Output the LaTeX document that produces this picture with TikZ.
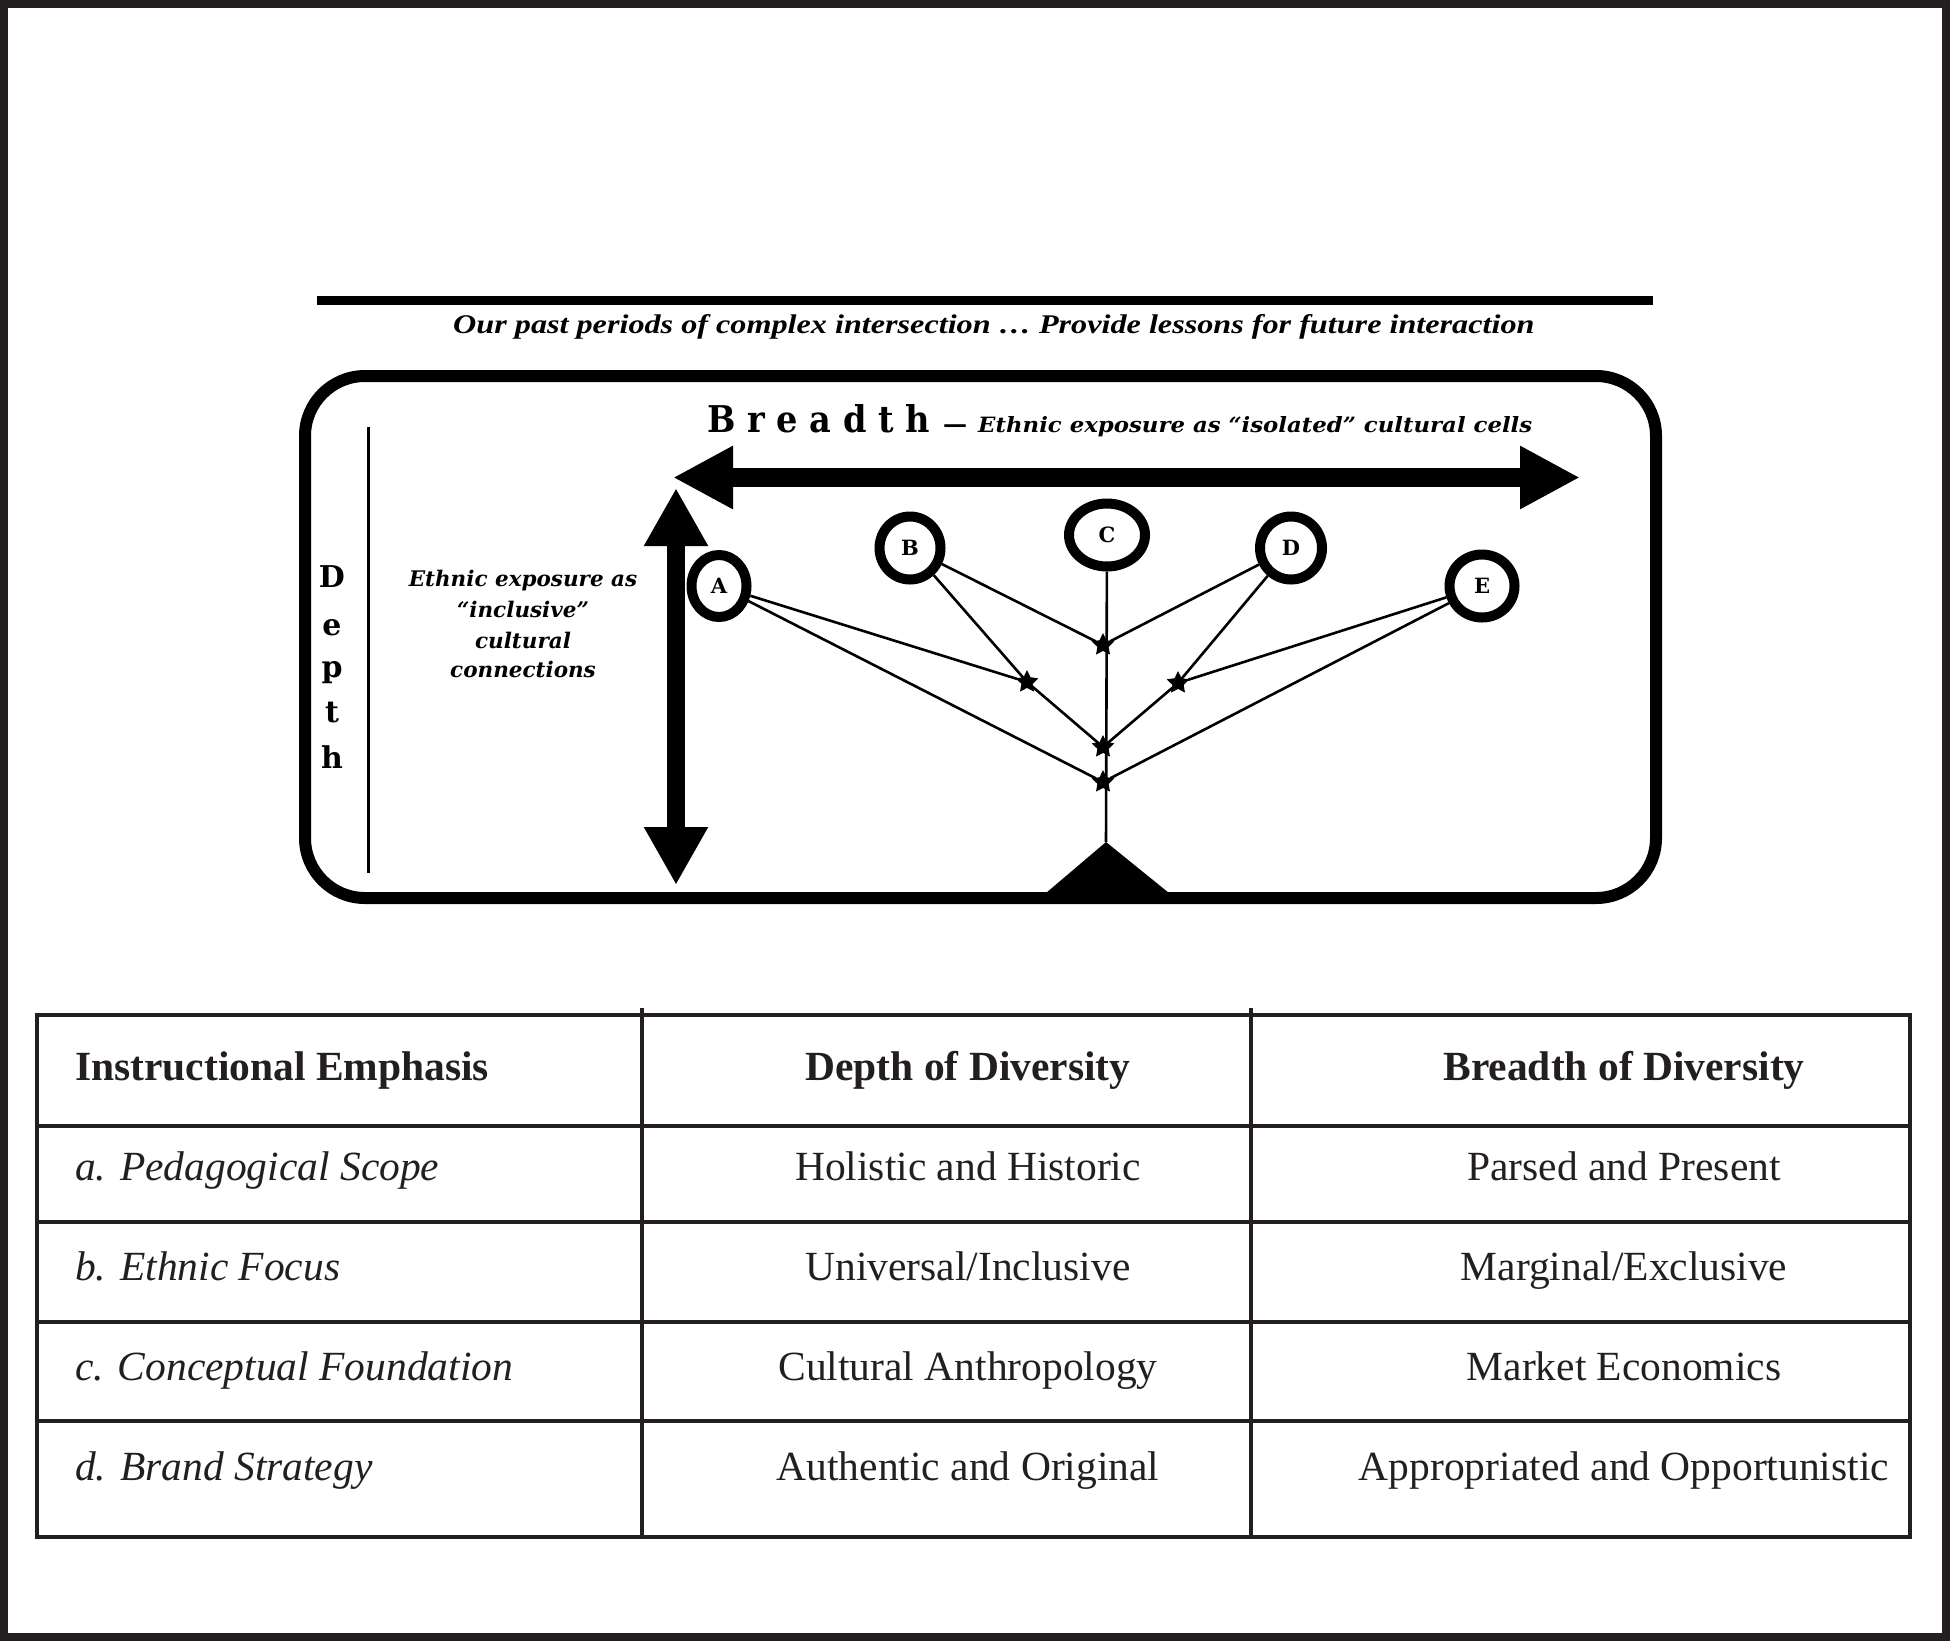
\documentclass[tikz,border=0pt]{standalone}
\usepackage{fontspec}
\usepackage{graphicx}
\setmainfont{Liberation Serif}
\newfontfamily\dvs{DejaVu Serif}
\usetikzlibrary{shapes.geometric,arrows.meta}
\definecolor{ink}{HTML}{231F20}
\tikzset{
  bubble/.style={ellipse, draw=black, line width=10pt, inner sep=0pt,
    font=\dvs\bfseries\fontsize{21}{21}\selectfont},
  junction/.style={star, star points=5, star point ratio=2.0, fill=black, draw=black,
    line width=1.2pt, minimum size=21pt, inner sep=0pt, outer sep=0pt},
  link/.style={line width=2.6pt},
  bigarrow/.style={line width=19pt,
    {Triangle[length=60pt,width=59pt]}-{Triangle[length=60pt,width=59pt]}},
  hdr/.style={font=\bfseries\fontsize{41.5}{48}\selectfont, text=ink, anchor=base, inner sep=0pt},
  cellt/.style={font=\fontsize{41.5}{48}\selectfont, text=ink, anchor=base, inner sep=0pt},
  rowlab/.style={font=\itshape\fontsize{41.5}{48}\selectfont, text=ink, anchor=base west, inner sep=0pt},
  depthl/.style={font=\dvs\bfseries\fontsize{30}{30}\selectfont, anchor=base, inner sep=0pt},
  ethn/.style={font=\dvs\bfseries\itshape\fontsize{21.5}{21.5}\selectfont, anchor=base, inner sep=0pt},
  gridline/.style={draw=ink, line width=3.5pt}
}
\begin{document}
\begin{tikzpicture}[x=1pt,y=-1pt]
\useasboundingbox (0,0) rectangle (1950,1641);
% outer frame
\draw[ink, line width=8pt] (4,4) rectangle (1946,1636.5);

% title rule and title
\coordinate (rl) at (317,300);
\coordinate (rr) at (1653,300);
\draw[line width=9pt] (rl) -- (rr);
\node[anchor=base west, inner sep=0pt] (title) at (453,333)
  {\resizebox{1081pt}{19pt}{\bfseries\itshape Our past periods of complex intersection … Provide lessons for future interaction}};

% rounded frame
\draw[line width=12pt, rounded corners=60pt] (305,376) rectangle (1656,898);

% breadth label
\node[anchor=base west, inner sep=0pt] (breadth) at (707,432)
  {\resizebox{223pt}{28pt}{\dvs\bfseries B r e a d t h}};
\node[anchor=base west, inner sep=0pt] (dash) at (943,432)
  {\dvs\bfseries\fontsize{24}{24}\selectfont —};
\node[anchor=base west, inner sep=0pt] (bsub) at (978,432)
  {\resizebox{554pt}{16pt}{\dvs\bfseries\itshape Ethnic exposure as “isolated” cultural cells}};

% depth label
\coordinate (dtop) at (368,427);
\coordinate (dbot) at (368,873);
\draw[line width=3pt] (dtop) -- (dbot);
\node[depthl] (d1) at (332,587) {D};
\node[depthl] (d2) at (332,635) {e};
\node[depthl] (d3) at (332,677) {p};
\node[depthl] (d4) at (332,722) {t};
\node[depthl] (d5) at (332,768) {h};

\node[ethn] (e1) at (523,586) {Ethnic exposure as};
\node[ethn] (e2) at (523,617) {“inclusive”};
\node[ethn] (e3) at (523,648) {cultural};
\node[ethn] (e4) at (523,677) {connections};

% big arrows
\coordinate (hl) at (673,477.5);
\coordinate (hr) at (1580,477.5);
\draw[bigarrow] (hl) -- (hr);
\coordinate (vt) at (676,488);
\coordinate (vb) at (676,885);
\draw[line width=18pt, {Triangle[length=58pt,width=60pt]}-{Triangle[length=58pt,width=60pt]}] (vt) -- (vb);

% cells
\node[bubble, minimum width=55pt, minimum height=62pt] (A) at (719,586) {A};
\node[bubble, minimum width=61pt, minimum height=63pt] (B) at (910,548) {B};
\node[bubble, minimum width=76pt, minimum height=63pt] (C) at (1107,535) {C};
\node[bubble, minimum width=62pt, minimum height=63pt] (D) at (1291,548) {D};
\node[bubble, minimum width=65pt, minimum height=63pt] (E) at (1482,586) {E};

% junctions
\node[junction] (S1) at (1103,645) {};
\node[junction] (S2) at (1027,682) {};
\node[junction] (S3) at (1178,683) {};
\node[junction] (S4) at (1103,747) {};
\node[junction] (S5) at (1103,782) {};

% fulcrum
\coordinate (apex) at (1106,842);
\coordinate (tl) at (1046,893);
\coordinate (tr) at (1169,893);
\fill (tl) -- (apex) -- (tr) -- cycle;

% links
\draw[link] (C) -- (apex);
\draw[link] (A) -- (S2);
\draw[link] (A) -- (S5);
\draw[link] (B) -- (S1);
\draw[link] (B) -- (S2) -- (S4);
\draw[link] (D) -- (S1);
\draw[link] (D) -- (S3) -- (S4);
\draw[link] (E) -- (S3);
\draw[link] (E) -- (S5);

% table grid
\draw[gridline] (37,1015) rectangle (1910,1537);
\foreach \yy in {1126,1222,1322,1421} \draw[gridline] (37,\yy) -- (1910,\yy);
\foreach \xx in {642,1251} \draw[gridline] (\xx,1008) -- (\xx,1537);

% table text
\node[hdr, anchor=base west] (h1) at (75,1080) {Instructional Emphasis};
\node[hdr] (h2) at (968,1080) {Depth of Diversity};
\node[hdr] (h3) at (1624,1080) {Breadth of Diversity};

\node[rowlab] (r1) at (75,1180) {a. Pedagogical Scope};
\node[cellt] (r1b) at (968,1180) {Holistic and Historic};
\node[cellt] (r1c) at (1624,1180) {Parsed and Present};

\node[rowlab] (r2) at (75,1280) {b. Ethnic Focus};
\node[cellt] (r2b) at (968,1280) {Universal/Inclusive};
\node[cellt] (r2c) at (1624,1280) {Marginal/Exclusive};

\node[rowlab] (r3) at (75,1380) {c. Conceptual Foundation};
\node[cellt] (r3b) at (968,1380) {Cultural Anthropology};
\node[cellt] (r3c) at (1624,1380) {Market Economics};

\node[rowlab] (r4) at (75,1480) {d. Brand Strategy};
\node[cellt] (r4b) at (968,1480) {Authentic and Original};
\node[cellt] (r4c) at (1624,1480) {Appropriated and Opportunistic};
\end{tikzpicture}
\end{document}
